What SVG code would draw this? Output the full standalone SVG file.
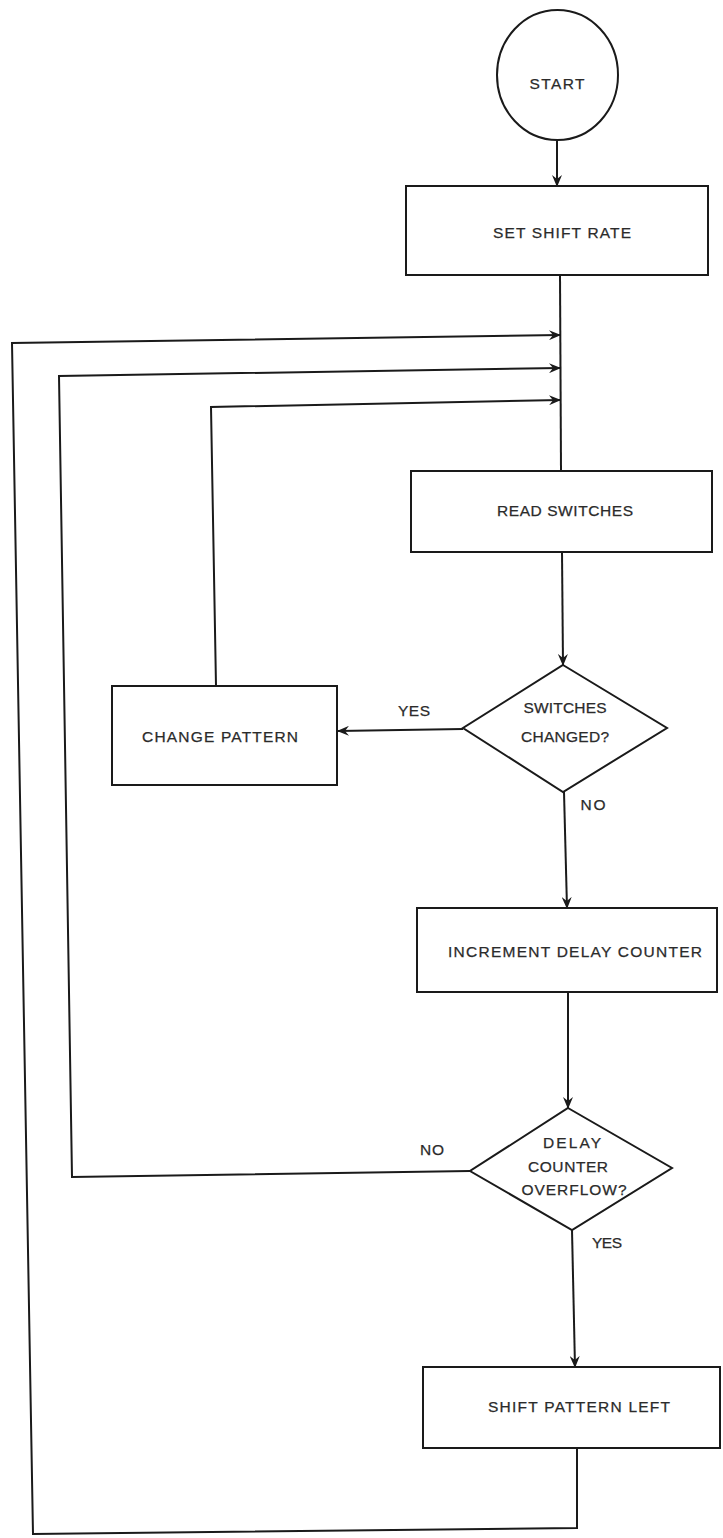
<svg xmlns="http://www.w3.org/2000/svg" width="723" height="1538" viewBox="0 0 723 1538">
<defs>
<style>
.n{fill:#fff;stroke:#1a1a1a;stroke-width:2}
.c{fill:none;stroke:#1a1a1a;stroke-width:2}
.l{font-family:"Liberation Sans",Arial,sans-serif;font-size:15.5px;fill:#2b2b2b;text-anchor:middle;stroke:#2b2b2b;stroke-width:0.25}
</style>
<marker id="ah" markerWidth="12" markerHeight="10" refX="11" refY="5" orient="auto" markerUnits="userSpaceOnUse">
<path d="M0,0 L12,5 L0,10 L4,5 Z" fill="#1a1a1a"/>
</marker>
</defs>
<rect width="723" height="1538" fill="#fff"/>
<g id="connectors">
<path class="c" d="M557,141 L557,186" marker-end="url(#ah)"/>
<path class="c" d="M560,275 L561,471"/>
<path class="c" d="M562,552 L563,665" marker-end="url(#ah)"/>
<path class="c" d="M463,729 L338,731" marker-end="url(#ah)"/>
<path class="c" d="M216,686 L211,407 L560,400" marker-end="url(#ah)"/>
<path class="c" d="M564,792 L567,908" marker-end="url(#ah)"/>
<path class="c" d="M568,992 L568,1108" marker-end="url(#ah)"/>
<path class="c" d="M470,1171 L72,1177 L59,376 L560,368" marker-end="url(#ah)"/>
<path class="c" d="M572,1230 L575,1367" marker-end="url(#ah)"/>
<path class="c" d="M577,1448 L577,1528 L33,1534 L12,343 L560,335" marker-end="url(#ah)"/>
</g>
<g id="start">
<ellipse class="n" cx="557.5" cy="75" rx="60.5" ry="65"/>
<text class="l" x="557" y="89" textLength="55" lengthAdjust="spacing">START</text>
</g>
<g id="set-shift-rate">
<rect class="n" x="406" y="186" width="302" height="89"/>
<text class="l" x="562" y="238" textLength="138" lengthAdjust="spacing">SET SHIFT RATE</text>
</g>
<g id="read-switches">
<rect class="n" x="411" y="471" width="301" height="81"/>
<text class="l" x="565" y="516" textLength="136" lengthAdjust="spacing">READ SWITCHES</text>
</g>
<g id="switches-changed">
<polygon class="n" points="563,665 667,728 563,792 463,728"/>
<text class="l" x="565" y="713" textLength="83" lengthAdjust="spacing">SWITCHES</text>
<text class="l" x="565" y="742" textLength="88" lengthAdjust="spacing">CHANGED?</text>
<text class="l" x="414" y="716" textLength="32" lengthAdjust="spacing">YES</text>
<text class="l" x="593" y="810" textLength="25" lengthAdjust="spacing">NO</text>
</g>
<g id="change-pattern">
<rect class="n" x="112" y="686" width="225" height="99"/>
<text class="l" x="220" y="742" textLength="156" lengthAdjust="spacing">CHANGE PATTERN</text>
</g>
<g id="increment-delay-counter">
<rect class="n" x="417" y="908" width="300" height="84"/>
<text class="l" x="575" y="957" textLength="254" lengthAdjust="spacing">INCREMENT DELAY COUNTER</text>
</g>
<g id="delay-counter-overflow">
<polygon class="n" points="568,1108 672,1168 572,1230 470,1171"/>
<text class="l" x="572" y="1148" textLength="58" lengthAdjust="spacing">DELAY</text>
<text class="l" x="568" y="1172" textLength="80" lengthAdjust="spacing">COUNTER</text>
<text class="l" x="574" y="1195" textLength="105" lengthAdjust="spacing">OVERFLOW?</text>
<text class="l" x="432" y="1155" textLength="24" lengthAdjust="spacing">NO</text>
<text class="l" x="607" y="1248" textLength="30" lengthAdjust="spacing">YES</text>
</g>
<g id="shift-pattern-left">
<rect class="n" x="423" y="1367" width="297" height="81"/>
<text class="l" x="579" y="1412" textLength="182" lengthAdjust="spacing">SHIFT PATTERN LEFT</text>
</g>
</svg>
